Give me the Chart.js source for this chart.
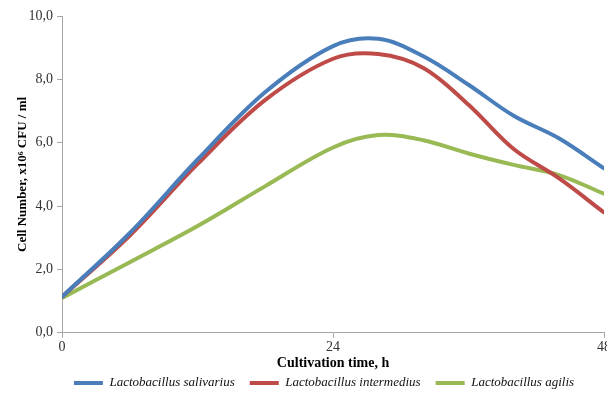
<!DOCTYPE html>
<html>
<head>
<meta charset="utf-8">
<script src="https://cdn.jsdelivr.net/npm/chart.js@4/dist/chart.umd.min.js"></script>
<style>
  html, body { margin: 0; padding: 0; background: #fff; overflow: hidden; width: 607px; height: 394px; }
  canvas { display: block; }
</style>
</head>
<body>
<canvas id="c" width="612" height="394"></canvas>
<script>
const hours = [0, 6, 12, 18, 24, 28, 32, 36, 40, 44, 48];
// Cell number, x10^6 CFU / ml
const salivarius  = [1.14, 3.15, 5.47, 7.60, 9.05, 9.28, 8.73, 7.83, 6.85, 6.14, 5.19];
const intermedius = [1.14, 3.07, 5.33, 7.35, 8.65, 8.80, 8.36, 7.20, 5.80, 4.88, 3.80];
const agilis      = [1.10, 2.23, 3.37, 4.63, 5.85, 6.24, 6.08, 5.66, 5.30, 4.98, 4.39];
const seriesNames = ['Lactobacillus salivarius', 'Lactobacillus intermedius', 'Lactobacillus agilis'];
const yTicks = [0, 2, 4, 6, 8, 10];
const xTicks = [0, 24, 48];

const serif = '"Liberation Serif", "Times New Roman", serif';
const colors = ['#4a7ebb', '#be4b48', '#98b954'];
const axisGray = '#a6a6a6';

function toPts(vals) { return hours.map((h, i) => ({ x: h, y: vals[i] })); }

const shiftLegend = {
  id: 'shiftLegend',
  afterLayout(chart) {
    const s = 14;
    chart.legend.left += s;
    chart.legend.right += s;
  }
};

new Chart(document.getElementById('c'), {
  type: 'line',
  data: {
    datasets: [salivarius, intermedius, agilis].map((vals, i) => ({
      label: seriesNames[i],
      data: toPts(vals),
      borderColor: colors[i],
      backgroundColor: colors[i],
      borderWidth: 4,
      borderCapStyle: 'round',
      pointRadius: 0,
      tension: 0.35,
      fill: false
    }))
  },
  options: {
    responsive: false,
    animation: false,
    layout: { padding: { top: 16, left: 8, right: 0, bottom: -5.5 } },
    plugins: {
      tooltip: { enabled: false },
      legend: {
        position: 'bottom',
        labels: {
          usePointStyle: true,
          pointStyle: 'line',
          pointStyleWidth: 29,
          padding: 15,
          color: '#111',
          font: { family: serif, size: 13, style: 'italic' }
        }
      }
    },
    scales: {
      x: {
        type: 'linear',
        min: 0, max: 48,
        afterBuildTicks: s => { s.ticks = xTicks.map(v => ({ value: v })); },
        ticks: { padding: 1, color: '#333', font: { family: serif, size: 14 }, maxRotation: 0 },
        grid: { drawOnChartArea: false, drawTicks: true, tickLength: 5, color: axisGray },
        border: { display: true, color: axisGray, width: 1 },
        title: {
          display: true,
          text: 'Cultivation time, h',
          color: '#000',
          font: { family: serif, size: 14, weight: 'bold' },
          padding: { top: -2, bottom: -9.9 }
        }
      },
      y: {
        min: 0, max: 10,
        afterBuildTicks: s => { s.ticks = yTicks.map(v => ({ value: v })); },
        ticks: {
          padding: 4, color: '#333', font: { family: serif, size: 14 },
          callback: v => Number(v).toFixed(1).replace('.', ',')
        },
        grid: { drawOnChartArea: false, drawTicks: true, tickLength: 5, color: axisGray },
        border: { display: true, color: axisGray, width: 1 },
        title: {
          display: true,
          text: 'Cell Number, x10\u2076 CFU / ml',
          color: '#000',
          font: { family: serif, size: 13, weight: 'bold' },
          padding: { top: 7, bottom: -6 }
        }
      }
    }
  },
  plugins: [shiftLegend]
});
</script>
</body>
</html>
